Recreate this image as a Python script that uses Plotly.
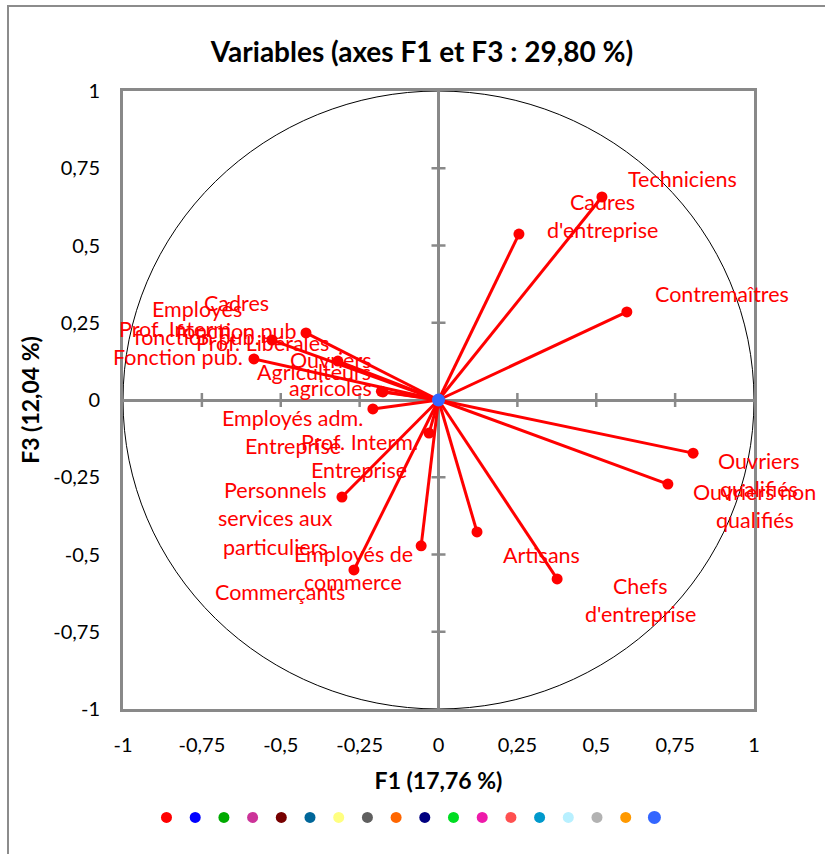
import plotly.graph_objects as go

# ---------------- data ----------------
names = [
    "Techniciens", "Cadres\nd'entreprise", "Contremaîtres", "Ouvriers\nqualifiés",
    "Ouvriers non\nqualifiés", "Artisans", "Chefs\nd'entreprise", "Employés de\ncommerce",
    "Commerçants", "Personnels\nservices aux\nparticuliers", "Prof. Interm.\nEntreprise",
    "Employés adm.\nEntreprise", "Agriculteurs", "Ouvriers\nagricoles", "Prof. Libérales",
    "Cadres\nfonction pub", "Employés\nfonction pub.", "Prof. Interm.\nFonction pub.",
]
f1 = [0.518, 0.255, 0.597, 0.807, 0.727, 0.122, 0.376, -0.055, -0.268, -0.306, -0.030,
      -0.208, -0.181, -0.176, -0.319, -0.420, -0.528, -0.585]
f3 = [0.657, 0.537, 0.285, -0.172, -0.272, -0.427, -0.579, -0.472, -0.550, -0.314, -0.107,
      -0.029, 0.028, 0.026, 0.126, 0.217, 0.194, 0.133]

tick_vals = [-1, -0.75, -0.5, -0.25, 0, 0.25, 0.5, 0.75, 1]
tick_text = ["-1", "-0,75", "-0,5", "-0,25", "0", "0,25", "0,5", "0,75", "1"]

legend_colors = ["#FF0000", "#0000FF", "#00AA00", "#CC3399", "#770000", "#006699",
                 "#FFFF80", "#5F5F5F", "#FF6600", "#000080", "#00DD22", "#EE1AAA",
                 "#FF5050", "#0099CC", "#B8F0FF", "#B2B2B2", "#FF9900", "#3366FF"]

title = "Variables (axes F1 et F3 : 29,80 %)"
x_title = "F1 (17,76 %)"
y_title = "F3 (12,04 %)"

# label placement (pixel offsets of label centre from point; +dy = down)
label_offsets = [(81, -18), (84, -18), (95, -18), (66, 22), (87, 22), (65, 23), (83, 21),
                 (-68, 22), (-74, 22), (-66, 21), (-70, 23), (-80, 23), (-67, -19),
                 (-52, -18), (-75, -18), (-69, -16), (-75, -17), (-76, -16)]
LINE_H = 28.5
FONT = "Lato, 'Open Sans', sans-serif"
RED = "#FF0000"

fig = go.Figure()

# vectors from origin
xs, ys = [], []
for a, b in zip(f1, f3):
    xs += [0, a, None]
    ys += [0, b, None]
fig.add_trace(go.Scatter(x=xs, y=ys, mode="lines", line=dict(color=RED, width=3),
                         showlegend=False, hoverinfo="skip"))
fig.add_trace(go.Scatter(x=f1, y=f3, mode="markers", marker=dict(color=RED, size=11),
                         name=" ", showlegend=True, text=[n.replace("\n", " ") for n in names],
                         hoverinfo="text"))
for c in legend_colors[1:-1]:
    fig.add_trace(go.Scatter(x=[None], y=[None], mode="markers",
                             marker=dict(color=c, size=11), name=" ", showlegend=True))
fig.add_trace(go.Scatter(x=[0], y=[0], mode="markers",
                         marker=dict(color=legend_colors[-1], size=13), name=" ", showlegend=True))

# labels
for n, a, b, (dx, dy) in zip(names, f1, f3, label_offsets):
    lines = n.split("\n")
    k = len(lines)
    for i, ln in enumerate(lines):
        off = dy + (i - (k - 1) / 2) * LINE_H
        fig.add_annotation(x=a, y=b, text=ln, showarrow=False, xshift=dx, yshift=-off,
                           xanchor="center", yanchor="middle",
                           font=dict(family=FONT, size=21.5, color=RED))

shapes = []
# unit circle
shapes.append(dict(type="circle", xref="x", yref="y", x0=-1, y0=-1, x1=1, y1=1,
                   line=dict(color="black", width=1), layer="below"))
# crossing ticks on the zero axes
for t in tick_vals:
    if t in (-1, 0, 1):
        continue
    shapes.append(dict(type="line", xref="x", yref="y", x0=t, x1=t, y0=-7, y1=7,
                       ysizemode="pixel", yanchor=0, line=dict(color="#898989", width=2.5),
                       layer="below"))
    shapes.append(dict(type="line", xref="x", yref="y", y0=t, y1=t, x0=-7, x1=7,
                       xsizemode="pixel", xanchor=0, line=dict(color="#898989", width=2.5),
                       layer="below"))
# outer chart border
shapes.append(dict(type="rect", xref="paper", yref="paper",
                   x0=(8 - 123) / 631, x1=1.3, y0=-0.4, y1=(709 - 6) / 618,
                   line=dict(color="#8C8C8C", width=2), layer="below"))

axis_common = dict(range=[-1, 1], tickvals=tick_vals, ticktext=tick_text,
                   showgrid=False, zeroline=True, zerolinecolor="#898989", zerolinewidth=2.5,
                   showline=True, mirror=True, linecolor="#898989", linewidth=3,
                   ticks="", tickfont=dict(family=FONT, size=20, color="black"))

fig.update_layout(
    width=825, height=854,
    margin=dict(l=123, r=71, t=91, b=145),
    paper_bgcolor="white", plot_bgcolor="white",
    title=dict(text="<b>" + title + "</b>", x=422 / 825, xanchor="center",
               y=1 - 52 / 854, yanchor="middle",
               font=dict(family=FONT, size=28, color="black")),
    xaxis=dict(**axis_common, ticklabelstandoff=16,
               title=dict(text="<b>" + x_title + "</b>", standoff=18,
                          font=dict(family=FONT, size=23, color="black"))),
    yaxis=dict(**axis_common, ticklabelstandoff=16,
               title=dict(text="<b>" + y_title + "</b>", standoff=8,
                          font=dict(family=FONT, size=23, color="black"))),
    shapes=shapes,
    showlegend=True,
    legend=dict(orientation="h", x=0.5 - 33.5 / 631, xanchor="center",
                y=-0.152, yanchor="top",
                entrywidthmode="fraction", entrywidth=28.7 / 631,
                font=dict(size=12), itemwidth=30),
)

fig.write_html("out.html", config={"displayModeBar": False},
               post_script="document.body.style.margin='0';")
